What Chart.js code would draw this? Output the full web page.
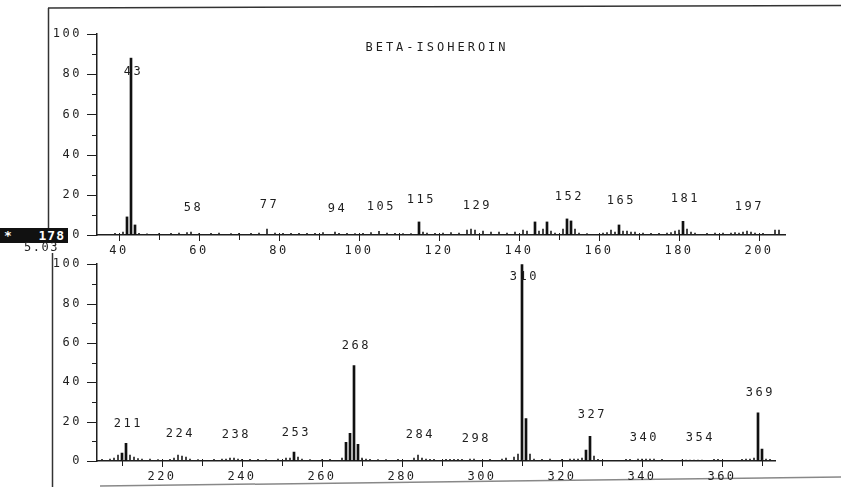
<!DOCTYPE html>
<html><head><meta charset="utf-8">
<script src="https://cdn.jsdelivr.net/npm/chart.js@4.4.1/dist/chart.umd.min.js"></script>
<style>
html,body{margin:0;padding:0;background:#fff;width:841px;height:487px;overflow:hidden;position:relative}
canvas{position:absolute;left:0}
#c1{top:0px}
#c2{top:252px}
#frame{position:absolute;left:0;top:0}
.box{position:absolute;left:0;top:228px;width:68px;height:15px;background:#111;color:#fff;font:bold 13px "DejaVu Sans Mono",monospace;line-height:15px;z-index:5}
.box span{position:absolute;top:0}
.sub{position:absolute;left:24px;top:240px;font:12px "DejaVu Sans Mono",monospace;letter-spacing:1.5px;color:#222;line-height:14px;z-index:5}
</style></head>
<body>
<svg id="frame" width="841" height="487">
  <line x1="48" y1="8" x2="841" y2="5.5" stroke="#333" stroke-width="1.5"/>
  <line x1="48.5" y1="8" x2="48.5" y2="228" stroke="#333" stroke-width="1.5"/>
  <line x1="52.5" y1="253" x2="52.5" y2="487" stroke="#333" stroke-width="1.5"/>
  <line x1="100" y1="486" x2="841" y2="477" stroke="#888" stroke-width="1.5"/>
</svg>
<canvas id="c1" width="841" height="262"></canvas>
<canvas id="c2" width="841" height="235"></canvas>
<div class="box"><span style="left:4px">*</span><span style="right:3px;letter-spacing:1px">178</span></div>
<div class="sub">5.03</div>
<script>
// ---------- data ----------
const titleText = 'BETA-ISOHEROIN';
const yTicks = [0,10,20,30,40,50,60,70,80,90,100];
const topXTicks = [40,50,60,70,80,90,100,110,120,130,140,150,160,170,180,190,200];
const botXTicks = [210,220,230,240,250,260,270,280,290,300,310,320,330,340,350,360,370];

const topMz  = [39,41,42,43,44,45,47,50,53,55,57,58,60,63,65,68,70,73,75,77,79,81,83,85,87,89,91,94,95,97,99,101,103,105,107,109,111,113,115,116,117,119,121,123,125,127,128,129,131,133,135,137,139,141,142,144,145,146,147,148,149,151,152,153,154,155,157,161,162,163,164,165,166,167,168,169,171,173,175,177,178,179,180,181,182,183,184,187,189,191,193,194,195,196,197,198,199,201,204,205];
const topInt = [0.8,1.5,9,88,5,0.8,0.6,0.7,0.8,1,1.2,1.5,0.7,0.8,1,0.7,0.8,0.8,1,3,1,0.8,0.8,0.8,0.8,0.8,1.2,1.5,0.8,0.8,0.7,0.8,1.2,1.8,1,0.8,0.7,0.7,6.5,1.5,1,0.8,1,1.2,1,2.5,3,2.5,2,1.5,1.5,1,1.5,2.5,2,6.5,2,3,6.5,2,1,3,8,7,3,1,0.7,1,1.2,2.5,1.5,5,2,2,1.5,1.5,1,0.8,0.8,1,1.2,2,2.5,6.8,3,1.5,1,0.8,1,1,1,1.2,1,1.5,2,1.5,1,0.8,2.5,2.5];
const topLabelMz  = [43,58,77,94,105,115,129,152,165,181,197];
const topLabelLvl = [81,13.5,15,13,14,17.5,14.5,19,17,18,14];

const botMz  = [205,207,208,209,210,211,212,213,214,215,217,219,222,223,224,225,226,227,229,233,235,236,237,238,239,240,242,244,246,249,251,252,253,254,255,257,260,262,265,266,267,268,269,270,271,272,274,276,279,283,284,285,286,287,288,291,292,293,294,295,297,298,302,305,306,308,309,310,311,312,313,315,317,320,322,323,324,325,326,327,328,329,336,337,339,340,341,342,343,345,350,351,352,353,354,355,358,359,365,366,367,368,369,370,371,372];
const botInt = [0.8,1,1.5,3,4,9,3,2,1.2,1,1,0.7,0.8,1.5,3,2.5,2,1,0.7,0.8,1,1,1.5,1.5,1,0.8,0.8,0.8,0.7,1,1.5,1.5,4.5,2,1,0.7,0.7,0.8,1.5,9.5,14,48.5,8.5,1.5,1,0.8,0.7,0.7,0.8,1.5,3,1.5,1,0.8,0.8,0.8,0.8,0.8,0.8,0.8,1,1,0.8,1,1.5,2,3.5,100,21.5,3.5,1,0.8,1,0.8,1,1,1,1.5,5.5,12.5,2.5,0.8,0.8,0.8,1,1,1,1,1,0.8,0.5,0.5,0.5,0.5,0.5,0.5,0.8,0.8,0.8,1,1,1.5,24.5,6,1,0.8];
const botLabelMz  = [211,224,238,253,268,284,298,310,327,340,354,369];
const botLabelLvl = [19,14,13.5,14.5,58.5,13.5,11,93.5,23.5,11.5,11.5,34.5];

// ---------- drawing ----------
const FONT = '"DejaVu Sans Mono", monospace';
const INK = '#1e1e1e';
const LS = '2.5px';
Chart.defaults.font.family = FONT;
Chart.defaults.color = INK;

const decor = {
  id: 'decor',
  beforeInit(chart){ chart.ctx.letterSpacing = LS; },
  beforeDraw(chart){ chart.ctx.letterSpacing = LS; },
  afterDraw(chart, args, opts){
    const ctx = chart.ctx, xs = chart.scales.x, ys = chart.scales.y, ca = chart.chartArea;
    ctx.save();
    ctx.strokeStyle = INK; ctx.lineWidth = 1;
    ctx.beginPath();
    for (const v of yTicks){
      const py = Math.round(ys.getPixelForValue(v)) + 0.5;
      const len = v % 20 === 0 ? 10 : 5;
      ctx.moveTo(ca.left - len, py); ctx.lineTo(ca.left, py);
    }
    for (const v of opts.xTicks){
      const px = Math.round(xs.getPixelForValue(v)) + 0.5;
      const down = v % 20 === 0 ? 6 : 5;
      ctx.moveTo(px, ca.bottom - 2); ctx.lineTo(px, ca.bottom + down);
    }
    ctx.stroke();
    ctx.letterSpacing = LS;
    ctx.font = '12px ' + FONT;
    ctx.fillStyle = INK;
    ctx.textAlign = 'center'; ctx.textBaseline = 'middle';
    opts.labelMz.forEach((m, i) => {
      ctx.fillText(String(m), xs.getPixelForValue(m + 0.6), ys.getPixelForValue(opts.labelLvl[i]));
    });
    if (opts.title){
      ctx.letterSpacing = '3px';
      ctx.fillText(opts.title, 437, 48);
    }
    ctx.restore();
  }
};

function makeSpectrum(id, mz, inten, labelMz, labelLvl, xMin, xMax, xTicks, padTop, padRight, xAxisH, title){
  const major = [], minor = [];
  mz.forEach((m, i) => { (inten[i] >= 4 ? major : minor).push({x: m, y: inten[i]}); });
  return new Chart(document.getElementById(id), {
    type: 'bar',
    data: { datasets: [
      { data: minor, backgroundColor: '#222', barThickness: 1, grouped: false },
      { data: major, backgroundColor: '#111', barThickness: 2, grouped: false }
    ]},
    options: {
      responsive: false, animation: false, devicePixelRatio: 1,
      layout: { padding: { left: 0, right: padRight, top: padTop, bottom: 0 } },
      plugins: { legend: {display: false}, tooltip: {enabled: false},
        decor: { labelMz, labelLvl, xTicks, title } },
      scales: {
        x: {
          type: 'linear', min: xMin, max: xMax, offset: false,
          afterBuildTicks: s => { s.ticks = xTicks.map(v => ({value: v})); },
          afterFit: s => { s.height = xAxisH; },
          ticks: { autoSkip: false, maxRotation: 0, padding: 3,
            font: {size: 12}, color: INK,
            callback: v => (v % 20 === 0 ? String(v) : '') },
          grid: { display: true, drawOnChartArea: false, offset: false, tickLength: 6, tickColor: 'rgba(0,0,0,0)' },
          border: { display: true, color: INK, width: 1.5 }
        },
        y: {
          min: 0, max: 100,
          afterBuildTicks: s => { s.ticks = yTicks.map(v => ({value: v})); },
          afterFit: s => { s.width = 97; },
          ticks: { autoSkip: false, padding: 5, font: {size: 12}, color: INK,
            callback: v => (v % 20 === 0 ? String(v) : '') },
          grid: { display: true, drawOnChartArea: false, tickLength: 10, tickColor: 'rgba(0,0,0,0)' },
          border: { display: true, color: INK, width: 1.5 }
        }
      }
    },
    plugins: [decor]
  });
}

makeSpectrum('c1', topMz, topInt, topLabelMz, topLabelLvl, 34.5, 206.5, topXTicks, 34, 56, 27, titleText);
makeSpectrum('c2', botMz, botInt, botLabelMz, botLabelLvl, 203.75, 373.25, botXTicks, 9, 66, 26, null);
</script>
</body></html>
